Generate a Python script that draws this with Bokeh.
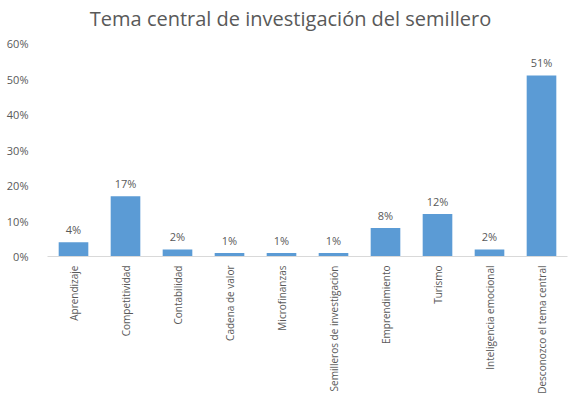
import math
from bokeh.plotting import figure
from bokeh.models import ColumnDataSource, FixedTicker, NumeralTickFormatter, Range1d
from bokeh.core.properties import value
from bokeh.embed import file_html
from bokeh.resources import INLINE

title_text = "Tema central de investigación del semillero"
categories = ["Aprendizaje", "Competitividad", "Contabilidad", "Cadena de valor",
              "Microfinanzas", "Semilleros de investigación", "Emprendimiento",
              "Turismo", "Inteligencia emocional", "Desconozco el tema central"]
values = [0.04, 0.17, 0.02, 0.01, 0.01, 0.01, 0.08, 0.12, 0.02, 0.51]
labels = ["4%", "17%", "2%", "1%", "1%", "1%", "8%", "12%", "2%", "51%"]
y_ticks = [0, 0.1, 0.2, 0.3, 0.4, 0.5, 0.6]

FONT = "Open Sans"
GRAY = "#595959"

# plot height in px for 0..0.6 is 213, frame extends up to the top edge to host the title
PLOT_H, BORDER_B, AXIS_PX = 398, 142, 213
frame_h = PLOT_H - BORDER_B - 1
y_top = y_ticks[-1] * frame_h / AXIS_PX

src = ColumnDataSource(dict(cat=categories, val=values, lab=labels))

p = figure(x_range=categories, y_range=Range1d(0, y_top), width=568, height=PLOT_H,
           output_backend="svg", toolbar_location=None,
           min_border_left=47, min_border_right=1, min_border_top=1,
           min_border_bottom=BORDER_B)

title_src = ColumnDataSource(dict(x=[categories[4]], y=[y_ticks[-1]], t=[title_text]))
p.text(x="x", y="y", text="t", source=title_src, x_offset=9, y_offset=-25,
       text_align="center", text_baseline="alphabetic", text_font=value(FONT),
       text_font_size="20px", text_color=GRAY)

p.vbar(x="cat", top="val", width=0.57, source=src, color="#5B9BD5", line_color=None)
p.text(x="cat", y="val", text="lab", source=src, text_align="center",
       text_baseline="bottom", y_offset=-5, text_font=value(FONT),
       text_font_size="11px", text_color=GRAY)

p.xgrid.visible = False
p.ygrid.visible = False
p.outline_line_color = None

p.yaxis.ticker = FixedTicker(ticks=y_ticks)
p.yaxis.formatter = NumeralTickFormatter(format="0%")
p.yaxis.axis_line_color = None
p.yaxis.major_tick_line_color = None
p.yaxis.minor_tick_line_color = None
p.yaxis.major_label_text_font = FONT
p.yaxis.major_label_text_font_size = "11px"
p.yaxis.major_label_text_color = GRAY
p.yaxis.major_label_standoff = 13

p.xaxis.axis_line_color = "#D9D9D9"
p.xaxis.major_tick_line_color = None
p.xaxis.minor_tick_line_color = None
p.xaxis.major_label_orientation = math.pi / 2
p.xaxis.major_label_text_font = FONT
p.xaxis.major_label_text_font_size = "10px"
p.xaxis.major_label_text_color = GRAY
p.xaxis.major_label_standoff = 3

open("out.html", "w").write(file_html(p, INLINE))
